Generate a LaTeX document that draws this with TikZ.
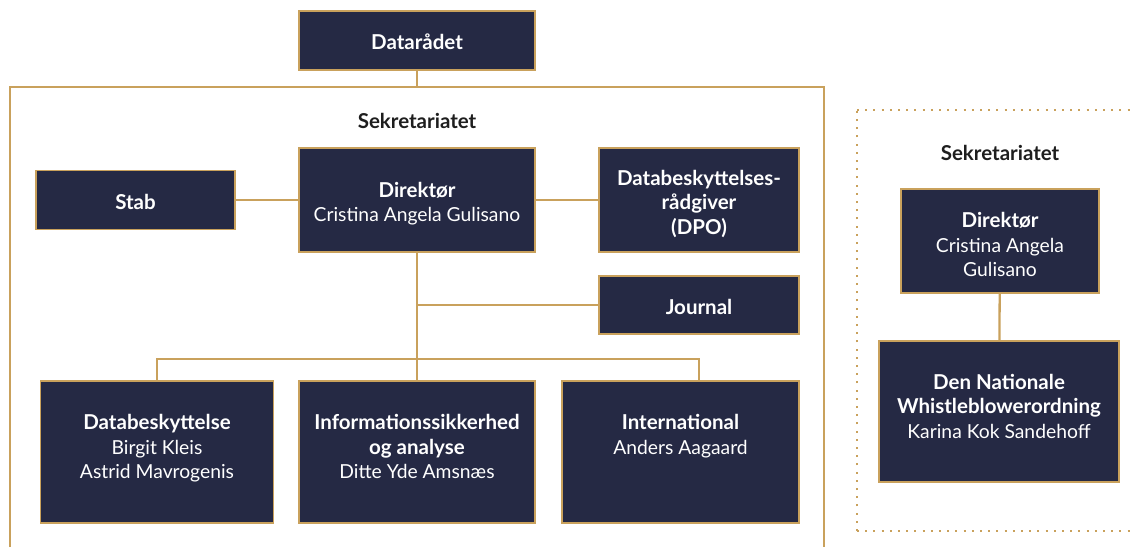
\documentclass[tikz,border=0pt]{standalone}
\usepackage{fontspec}
\setmainfont{Lato}
\usetikzlibrary{positioning}
\definecolor{navy}{HTML}{252944}
\definecolor{gold}{HTML}{C9A15C}
\definecolor{ink}{HTML}{1E1E1E}
\newcommand{\hd}[1]{{\fontsize{20.5}{24.5}\selectfont\bfseries #1}}

\begin{document}
\begin{tikzpicture}[x=1pt,y=-1pt,node distance=2cm,font=\fontsize{19.3}{24.5}\selectfont]
  \tikzstyle{unit}=[draw=gold,fill=navy,text=white,line width=1.4pt,align=center,inner sep=0pt]
  \tikzstyle{link}=[gold,line width=2.3pt]
  \useasboundingbox (0,0) rectangle (1131,547);

  % the solid frame round the secretariat
  \draw[gold,line width=2.4pt] (10,547) -- (10,87) -- (824,87) -- (824,547);
  % the dotted frame on the right
  \tikzstyle{dots}=[gold,line width=2.2pt,dash pattern=on 2pt off 6.2pt]
  \draw[dots] (857,110) -- (1131,110);
  \draw[dots] (857,531) -- (857,110);
  \draw[dots] (857,531) -- (1131,531);

  \node[unit,minimum width=236pt,minimum height=59pt] (0) at (417,40.5) {\rule{0pt}{19pt}\hd{Datarådet}};
  \node (8) [below of=0,node distance=80.5pt,text=ink] {\hd{Sekretariatet}};
  \node[unit,minimum width=236pt,minimum height=104pt] (1) [below of=0,node distance=159.5pt]
    {\rule{0pt}{23pt}\hd{Direktør}\\Cristina Angela Gulisano};
  \node[unit,minimum width=199pt,minimum height=59pt] (2) [left of=1,node distance=281.5pt] {\rule{0pt}{20pt}\hd{Stab}};
  \node[unit,minimum width=200pt,minimum height=104pt] (3) [right of=1,node distance=282pt]
    {\rule{0pt}{23pt}\hd{Databeskyttelses-}\\\hd{rådgiver}\\\hd{(DPO)}};
  \node[unit,minimum width=200pt,minimum height=58pt] (4) [below of=3,node distance=105pt] {\rule{0pt}{20pt}\hd{Journal}};

  \node[unit,minimum width=236pt,minimum height=142pt] (6) [below of=1,node distance=252pt]
    {\rule{0pt}{29pt}\hd{Informationssikkerhed}\\\hd{og analyse}\\Ditte Yde Amsnæs\\~};
  \node[unit,minimum width=233pt,minimum height=142pt] (5) [left of=6,node distance=260pt]
    {\rule{0pt}{29pt}\hd{Databeskyttelse}\\Birgit Kleis\\Astrid Mavrogenis\\~};
  \node[unit,minimum width=237pt,minimum height=142pt] (7) [right of=6,node distance=263.5pt]
    {\rule{0pt}{29pt}\hd{International}\\Anders Aagaard\\~\\~};

  \node[unit,minimum width=198pt,minimum height=104pt] (10) at (1000,241)
    {\rule{0pt}{23pt}\hd{Direktør}\\Cristina Angela\\Gulisano};
  \node (9) [above of=10,node distance=88pt,text=ink] {\hd{Sekretariatet}};
  \node[unit,minimum width=240pt,minimum height=141pt] (11) [below of=10,node distance=170.5pt,xshift=-1pt]
    {\hd{Den Nationale}\\\hd{Whistleblowerordning}\\Karina Kok Sandehoff\rule[-11pt]{0pt}{11pt}};

  \coordinate (top) at (417,87);
  \coordinate (bus) at (417,359);
  \path[link]
  (0) edge (top)
  (2) edge (1)
  (1) edge (3)
  (1) edge (6)
  (1 |- 4) edge (4)
  (10) edge (11)
  ;
  \draw[link] (5.north) |- (bus) -| (7.north -| 4);
\end{tikzpicture}
\end{document}
